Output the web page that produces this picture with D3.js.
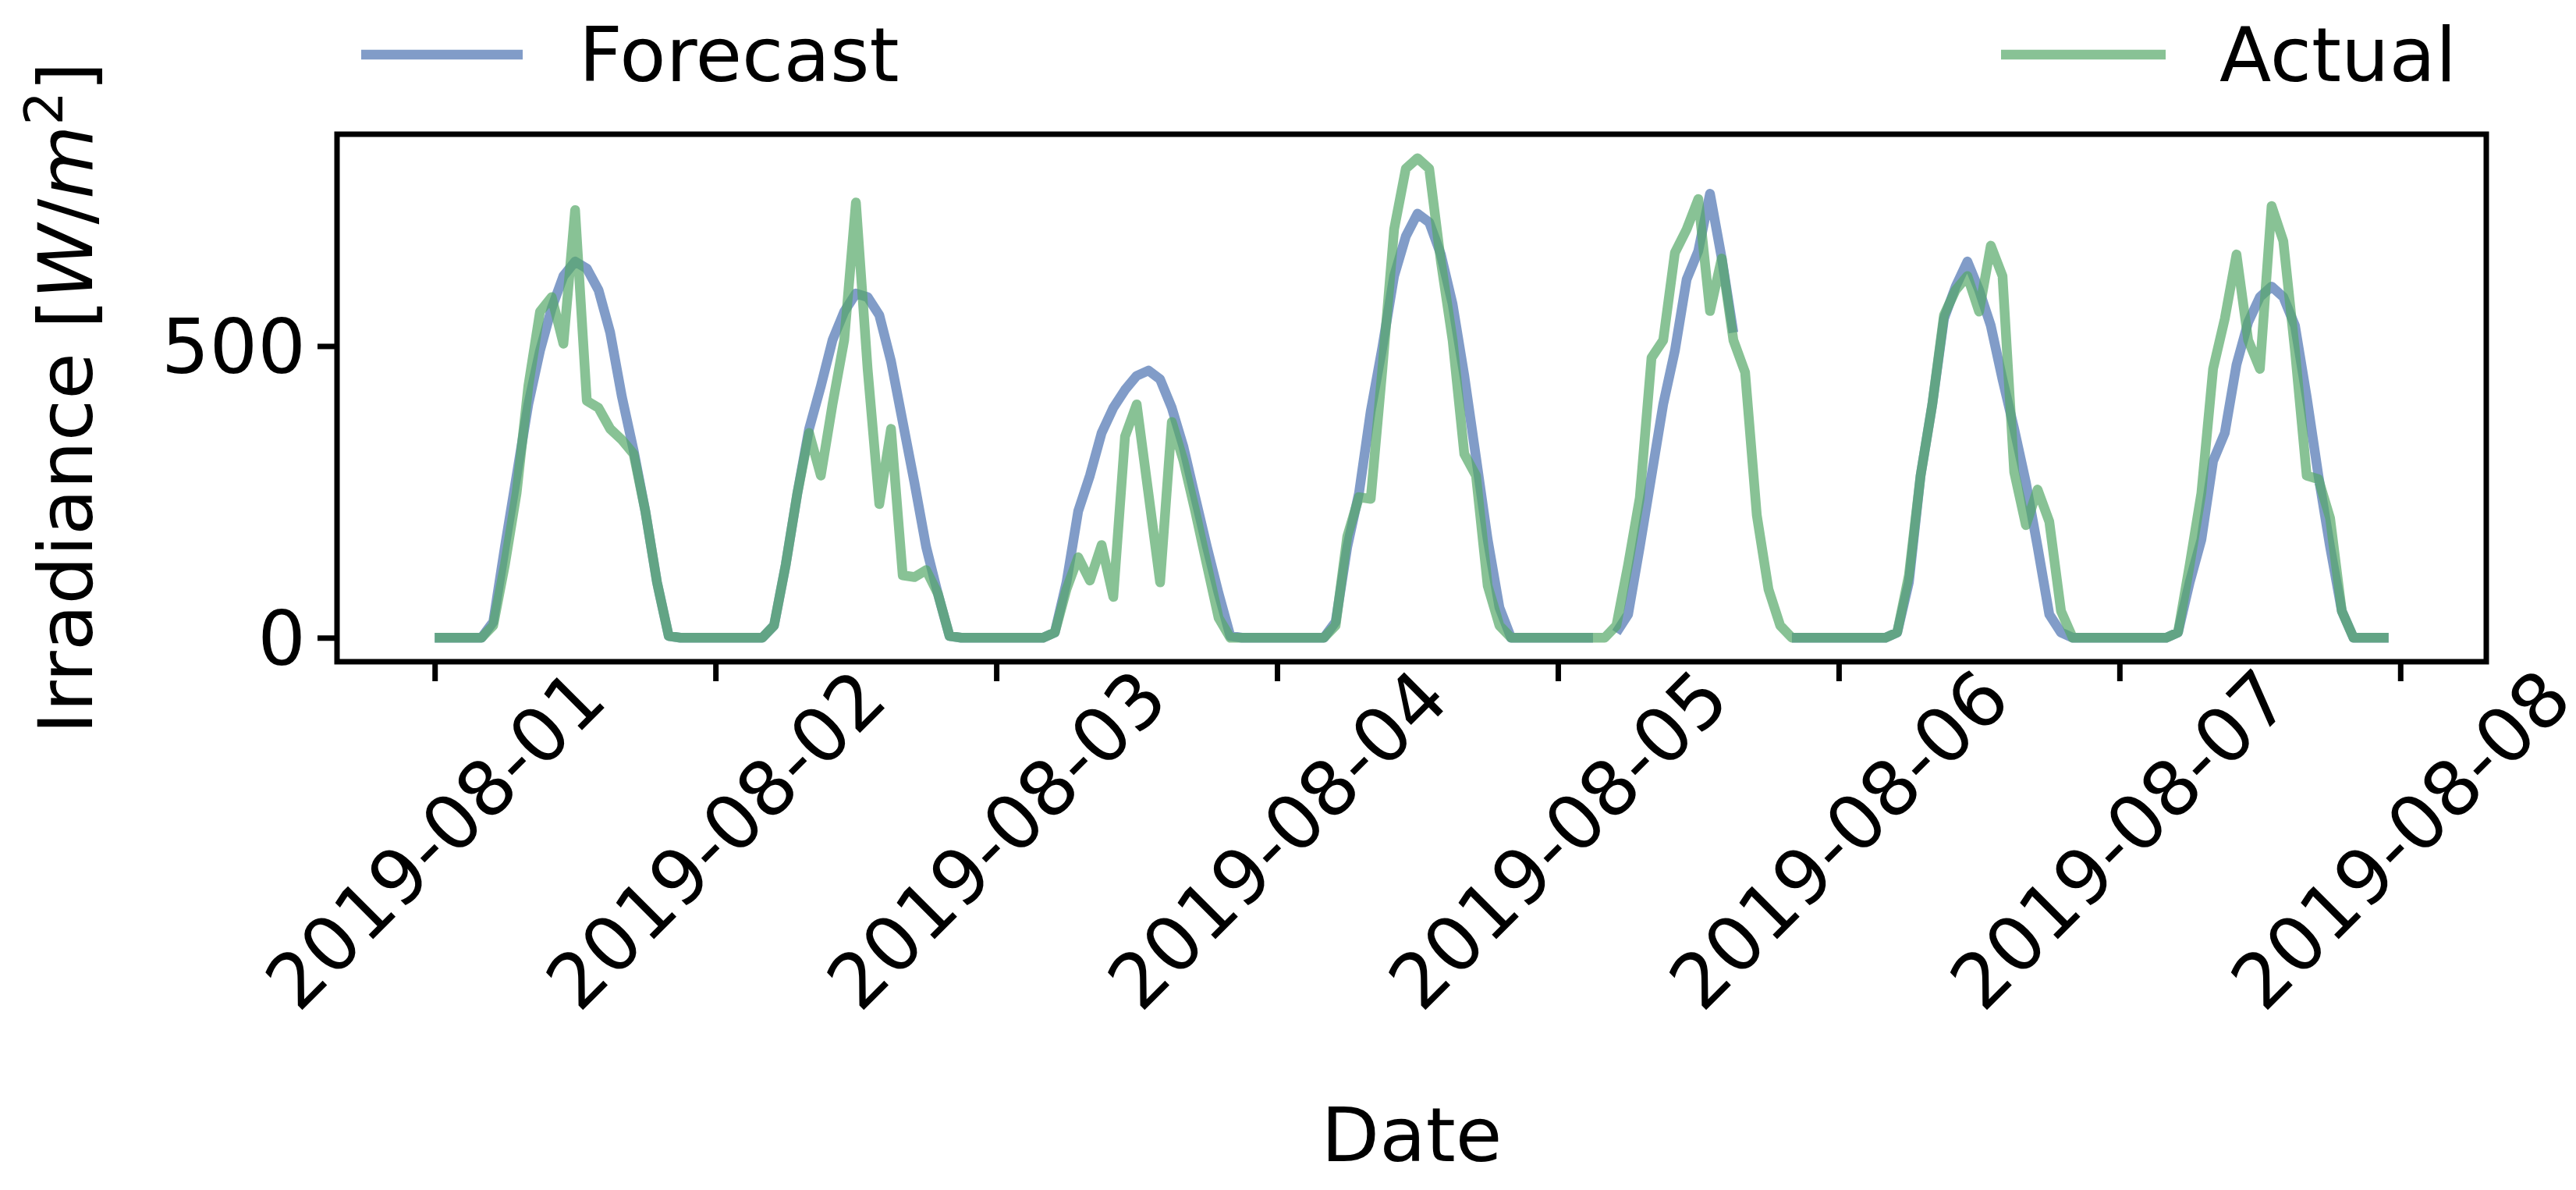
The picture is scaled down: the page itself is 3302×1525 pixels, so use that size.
<!DOCTYPE html>
<html><head><meta charset="utf-8">
<script src="https://cdn.jsdelivr.net/npm/d3@7"></script>
<style>body{margin:0;background:#fff}svg{display:block}text{font-family:"DejaVu Sans",sans-serif}</style>
</head><body>
<script>
const startDate = "2019-08-01";
const xTickLabels = ["2019-08-01","2019-08-02","2019-08-03","2019-08-04","2019-08-05","2019-08-06","2019-08-07","2019-08-08"];
const yTicks = [0, 500];
const seriesNames = ["Forecast", "Actual"];
const N = null;
// hourly values, 24 per day
const forecast = [
 [0,0,0,0,0,27,156,278,400,492,565,620,645,633,596,523,413,321,217,95,3,0,0,0],
 [0,0,0,0,0,21,125,248,358,431,510,559,590,584,553,474,370,266,156,76,3,0,0,0],
 [0,0,0,0,0,9,95,217,278,351,394,425,449,458,443,394,327,241,156,76,3,0,0,0],
 [0,0,0,0,0,27,156,248,388,498,620,688,727,712,657,572,449,309,168,52,0,0,0,0],
 [0,0,0,0,N,9,40,156,278,400,492,614,663,761,651,523,N,N,N,N,0,0,0,0],
 [0,0,0,0,0,9,95,278,400,547,602,645,596,535,443,358,266,156,40,9,0,0,0,0],
 [0,0,0,0,0,9,95,168,303,351,468,541,584,602,584,535,413,278,156,46,0,0,0,0]
];
const actual = [
 [0,0,0,0,0,21,125,248,431,559,584,504,733,406,394,358,339,315,217,95,3,0,0,0],
 [0,0,0,0,0,21,125,248,351,278,400,510,746,461,229,358,107,104,116,76,3,0,0,0],
 [0,0,0,0,0,9,83,138,98,159,70,345,400,248,95,370,303,217,125,34,0,0,0,0],
 [0,0,0,0,0,21,174,241,238,461,700,804,822,804,645,510,315,278,89,21,0,0,0,0],
 [0,0,0,0,0,21,125,240,480,510,660,700,752,560,650,510,455,210,83,21,0,0,0,0],
 [0,0,0,0,0,9,107,278,400,553,596,620,559,672,620,284,193,254,199,46,0,0,0,0],
 [0,0,0,0,0,9,125,248,461,547,657,510,461,740,680,492,278,272,205,46,0,0,0,0]
];

const W = 3302, H = 1525;
const t0 = new Date(startDate + "T00:00:00Z");
const toPts = arr => arr.flat().map((v,i)=>({t:new Date(t0.getTime()+i*3600e3), v}));
const fPts = toPts(forecast), aPts = toPts(actual);

const svg = d3.select("body").append("svg").attr("width",W).attr("height",H);
const L=432, R=3187, T=172, B=848;
const tMax = fPts[fPts.length-1].t;
const span = tMax - t0;
const x = d3.scaleUtc().domain([new Date(t0 - span*0.05), new Date(+tMax + span*0.05)]).range([L,R]);
const yMax = d3.max(aPts.concat(fPts), d=>d.v);
const y = d3.scaleLinear().domain([-0.05*yMax, 1.05*yMax]).range([B,T]);

const line = d3.line().defined(d=>d.v!==null).x(d=>x(d.t)).y(d=>y(d.v));
const colors = ["#4C72B0","#55A868"];
[fPts, aPts].forEach((pts,i)=>{
  svg.append("path").datum(pts).attr("d",line).attr("fill","none")
   .attr("stroke",colors[i]).attr("stroke-opacity",0.7).attr("stroke-width",12.5)
   .attr("stroke-linejoin","round");
});

svg.append("rect").attr("x",L).attr("y",T).attr("width",R-L).attr("height",B-T)
  .attr("fill","none").attr("stroke","#000").attr("stroke-width",7);

const fs = 97;
const xTicks = xTickLabels.map(s=>new Date(s+"T00:00:00Z"));
const xa = svg.append("g").attr("transform",`translate(0,${B})`)
  .call(d3.axisBottom(x).tickValues(xTicks).tickSize(22).tickFormat((d,i)=>xTickLabels[i]));
xa.select(".domain").remove();
xa.selectAll("line").attr("stroke","#000").attr("stroke-width",7).attr("transform","translate(0,3)");
xa.selectAll("text").attr("font-size",fs).attr("fill","#000").attr("text-anchor","middle")
  .attr("x",0).attr("y",0).attr("dy","0.35em")
  .attr("transform","translate(0,228) rotate(-45)");

const ya = svg.append("g").attr("transform",`translate(${L},0)`)
  .call(d3.axisLeft(y).tickValues(yTicks).tickSize(22));
ya.select(".domain").remove();
ya.selectAll("line").attr("stroke","#000").attr("stroke-width",7).attr("transform","translate(-3,0)");
ya.selectAll("text").attr("font-size",fs).attr("fill","#000").attr("dy","0.35em").attr("x",-40);

svg.append("text").attr("x",(L+R)/2).attr("y",1488).attr("text-anchor","middle")
  .attr("font-size",fs).text("Date");
const yl = svg.append("text").attr("transform",`translate(118,${(T+B)/2}) rotate(-90)`)
  .attr("text-anchor","middle").attr("font-size",fs);
yl.append("tspan").text("Irradiance [");
yl.append("tspan").attr("font-style","italic").text("W");
yl.append("tspan").text("/");
yl.append("tspan").attr("font-style","italic").text("m");
yl.append("tspan").attr("font-size",68).attr("dy",-38).text("2");
yl.append("tspan").attr("dy",38).text("]");

// legend
const leg = [{x1:463,x2:670,tx:742},{x1:2565,x2:2776,tx:2845}];
leg.forEach((l,i)=>{
  svg.append("line").attr("x1",l.x1).attr("x2",l.x2).attr("y1",70).attr("y2",70)
    .attr("stroke",colors[i]).attr("stroke-opacity",0.7).attr("stroke-width",12.5);
  svg.append("text").attr("x",l.tx).attr("y",70).attr("dy","0.35em").attr("font-size",fs).text(seriesNames[i]);
});
</script>
</body></html>
